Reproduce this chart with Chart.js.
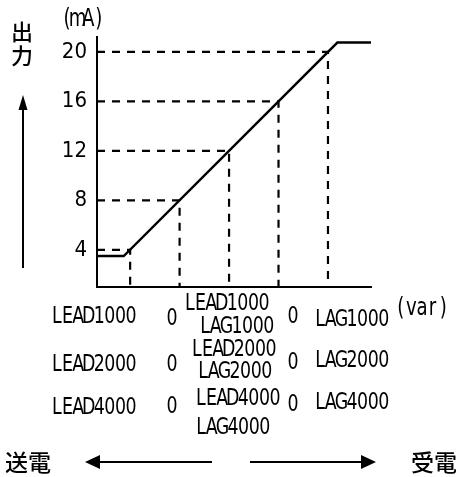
<!DOCTYPE html>
<html>
<head>
<meta charset="utf-8">
<script src="https://cdn.jsdelivr.net/npm/chart.js@4/dist/chart.umd.min.js"></script>
<style>
  body { margin: 0; background: #fff; }
  #wrap { width: 456px; height: 477px; }
</style>
</head>
<body>
<div id="wrap"><canvas id="outCanvas" width="456" height="477"></canvas></div>
<script>
// output levels (mA) and where each one is reached on the input axis
var outputLevels = [4, 8, 12, 16, 20];
var inputSteps = [-2, -1, 0, 1, 2];

// transfer curve, flat below 4 mA and above 20 mA
var curveX = [-2.67, -2.13, 2.19, 2.87];
var curveY = [3.5, 3.5, 20.75, 20.75];

var yTicks = [4, 8, 12, 16, 20];
var xRange = [-2.67, 2.87];
var yRange = [1, 21.2];

// input ranges shown under the axis
var leadLabels = ['LEAD1000', 'LEAD2000', 'LEAD4000'];
var lagLabels = ['LAG1000', 'LAG2000', 'LAG4000'];
var zeroLabel = '0';
var yUnit = '(mA)';
var xUnit = '(var)';
var yTitle = ['出', '力'];
var sendLabel = '送電';
var recvLabel = '受電';

var latinFont = "'DejaVu Sans Condensed', 'Liberation Sans Narrow', sans-serif";
var cjkFont = "'Noto Sans CJK JP', sans-serif";

var datasets = [];

outputLevels.forEach(function (v, i) {
    datasets.push({
        data: [
            { x: xRange[0], y: v },
            { x: inputSteps[i], y: v },
            { x: inputSteps[i], y: yRange[0] }
        ],
        borderColor: '#000',
        borderWidth: 2.2,
        borderDash: [8, 7],
        pointRadius: 0,
        fill: false
    });
});

datasets.push({
    data: curveX.map(function (x, i) { return { x: x, y: curveY[i] }; }),
    borderColor: '#000',
    borderWidth: 2.4,
    pointRadius: 0,
    fill: false
});

function arrowHead(ctx, tipX, tipY, dx, dy, len, half) {
    // dx, dy: unit direction the arrow points to
    var bx = tipX - dx * len, by = tipY - dy * len;
    ctx.beginPath();
    ctx.moveTo(tipX, tipY);
    ctx.lineTo(bx - dy * half, by + dx * half);
    ctx.lineTo(bx + dy * half, by - dx * half);
    ctx.closePath();
    ctx.fill();
}

// half-width gothic look: one narrow glyph per fixed cell
function fillMono(ctx, text, cx, cy) {
    var cell = 10.6;
    var x0 = cx - (text.length - 1) * cell / 2;
    for (var i = 0; i < text.length; i++) {
        ctx.save();
        ctx.translate(x0 + i * cell, cy);
        ctx.scale(0.84, 1);
        ctx.fillText(text[i], 0, 0);
        ctx.restore();
    }
}

var textPlugin = {
    id: 'texts',
    afterDraw: function (chart) {
        var ctx = chart.ctx;
        ctx.save();
        ctx.fillStyle = '#000';
        ctx.strokeStyle = '#000';
        ctx.textAlign = 'center';
        ctx.textBaseline = 'middle';

        ctx.font = '24px ' + latinFont;
        fillMono(ctx, yUnit, 83, 20);
        fillMono(ctx, xUnit, 422, 309);

        ctx.font = '23px ' + latinFont;
        // rows under the x axis
        var leftY = [317, 365, 408];
        var zeroLY = [319, 365, 407];
        var midLeadY = [304, 350, 399];
        var midLeadX = [227, 234, 238];
        var midLagY = [327, 372, 428];
        var midLagX = [237, 235, 233];
        var zeroRY = [317, 363, 405];
        var rightY = [320, 361, 403];
        for (var i = 0; i < 3; i++) {
            fillMono(ctx, leadLabels[i], 94, leftY[i]);
            fillMono(ctx, zeroLabel, 172, zeroLY[i]);
            fillMono(ctx, leadLabels[i], midLeadX[i], midLeadY[i]);
            fillMono(ctx, lagLabels[i], midLagX[i], midLagY[i]);
            fillMono(ctx, zeroLabel, 293, zeroRY[i]);
            fillMono(ctx, lagLabels[i], 352, rightY[i]);
        }

        ctx.font = '500 22px ' + cjkFont;
        ctx.fillText(yTitle[0], 22, 32);
        ctx.fillText(yTitle[1], 22, 56);
        ctx.font = '500 23px ' + cjkFont;
        ctx.fillText(sendLabel, 28, 462);
        ctx.fillText(recvLabel, 434, 462);

        // arrows
        ctx.lineWidth = 2;
        ctx.beginPath();
        ctx.moveTo(23, 268);
        ctx.lineTo(23, 105);
        ctx.moveTo(212, 462);
        ctx.lineTo(95, 462);
        ctx.moveTo(250, 462);
        ctx.lineTo(366, 462);
        ctx.stroke();
        arrowHead(ctx, 23, 95, 0, -1, 15, 4.5);
        arrowHead(ctx, 85, 462, -1, 0, 15, 7);
        arrowHead(ctx, 376, 462, 1, 0, 15, 7);
        ctx.restore();
    }
};

new Chart(document.getElementById('outCanvas'), {
    type: 'line',
    data: { datasets: datasets },
    plugins: [textPlugin],
    options: {
        responsive: false,
        animation: false,
        devicePixelRatio: 1,
        layout: { padding: { left: 57, right: 85, top: 37, bottom: 190 } },
        plugins: { legend: { display: false }, tooltip: { enabled: false } },
        scales: {
            x: {
                type: 'linear',
                min: xRange[0],
                max: xRange[1],
                grid: { display: false, drawTicks: false },
                border: { display: true, color: '#000', width: 2 },
                ticks: { display: false },
                afterFit: function (s) { s.height = 0; }
            },
            y: {
                type: 'linear',
                min: yRange[0],
                max: yRange[1],
                grid: { display: false, drawTicks: false },
                border: { display: true, color: '#000', width: 2 },
                afterBuildTicks: function (s) {
                    s.ticks = yTicks.map(function (v) { return { value: v }; });
                },
                ticks: {
                    color: '#000',
                    padding: 10,
                    font: { family: "'Liberation Sans Narrow', 'DejaVu Sans Condensed', sans-serif", size: 22 }
                },
                afterFit: function (s) { s.width = 40; }
            }
        }
    }
});
</script>
</body>
</html>
